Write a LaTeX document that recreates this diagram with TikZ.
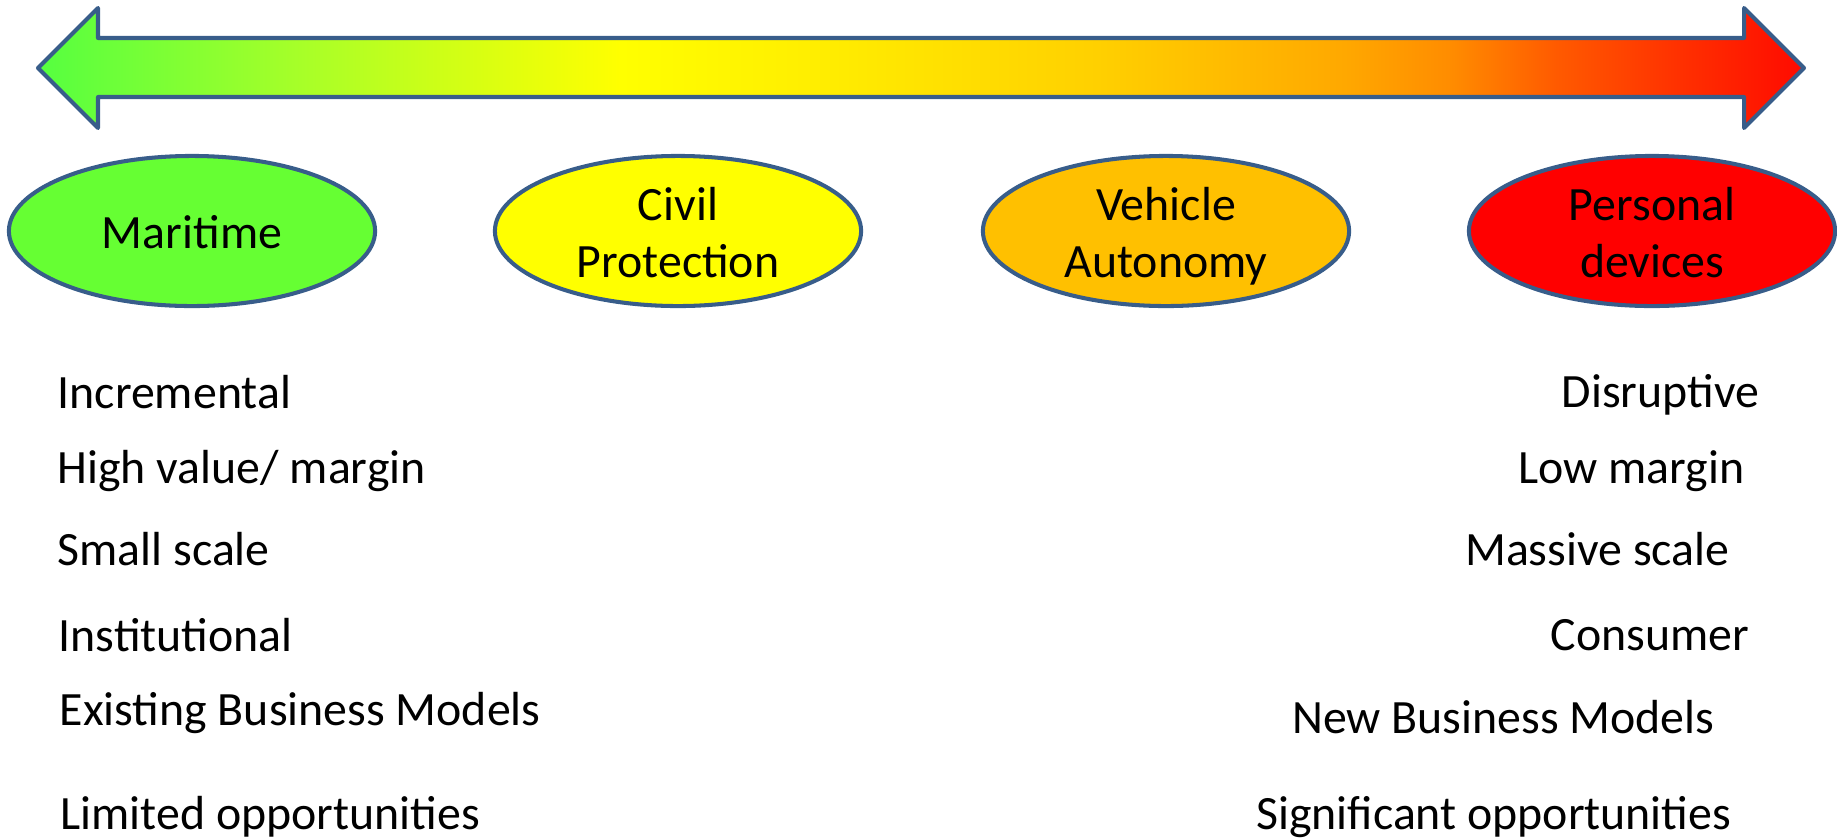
\documentclass[tikz,border=0pt]{standalone}
\usepackage{fontspec}
\setmainfont{Carlito}
\usetikzlibrary{shapes.geometric}

\definecolor{edgeblue}{RGB}{56,93,138}
\definecolor{sgreen}{RGB}{102,255,51}
\definecolor{syellow}{RGB}{255,255,0}
\definecolor{samber}{RGB}{255,192,0}
\definecolor{sred}{RGB}{255,0,0}
% colours along the double arrow
\definecolor{c0}{RGB}{85,255,64}
\definecolor{c1}{RGB}{168,255,40}
\definecolor{c2}{RGB}{255,255,0}
\definecolor{c3}{RGB}{255,238,0}
\definecolor{c4}{RGB}{255,208,0}
\definecolor{c5}{RGB}{255,168,0}
\definecolor{c6}{RGB}{255,140,0}
\definecolor{c7}{RGB}{255,90,0}
\definecolor{c8}{RGB}{255,48,0}
\definecolor{c9}{RGB}{255,10,0}
\pgfdeclarehorizontalshading{spectrum}{100bp}{color(0bp)=(c0); color(25bp)=(c0);
  color(32.5bp)=(c1); color(41.5bp)=(c2); color(47bp)=(c3); color(55bp)=(c4);
  color(62bp)=(c5); color(65bp)=(c6); color(68bp)=(c7); color(71.5bp)=(c8);
  color(75bp)=(c9); color(100bp)=(c9)}
\newcommand{\twolines}[2]{\begin{tabular}[t]{@{}c@{}}#1\\#2\end{tabular}}

\begin{document}
\begin{tikzpicture}[x=0.01cm, y=-0.01cm]
\tikzstyle{sector}=[ellipse,draw=edgeblue,line width=1.15pt,inner sep=0pt,
  minimum width=3.66cm,minimum height=1.50cm]
\tikzstyle{sectortext}=[inner sep=0pt,anchor=base,font=\fontsize{13.6}{16.3}\selectfont]
\tikzstyle{trait}=[inner sep=0pt,font=\fontsize{13.6}{16.3}\selectfont]
\useasboundingbox (0,0) rectangle (1837,839);

% double arrow
\draw[edgeblue,line width=1.15pt,line join=round,shading=spectrum]
  (38,68) -- (98,8) -- (98,38) -- (1744,38) -- (1744,8) -- (1804,68)
  -- (1744,128) -- (1744,97) -- (98,97) -- (98,128) -- cycle;

% sectors
\node[sector,fill=sgreen]  (maritime) at (192,231)  {};
\node[sector,fill=syellow] (civil)    at (678,231)  {};
\node[sector,fill=samber]  (vehicle)  at (1166,231) {};
\node[sector,fill=sred]    (personal) at (1652,231) {};
\node[sectortext] (maritimetext) at (192,248)  {Maritime};
\node[sectortext] (civiltext)    at (678,220)  {\twolines{Civil}{Protection}};
\node[sectortext] (vehicletext)  at (1166,220) {\twolines{Vehicle}{Autonomy}};
\node[sectortext] (personaltext) at (1652,220) {\twolines{Personal}{devices}};

% left end
\node[trait,anchor=base west] (incr)    at (57,408) {Incremental};
\node[trait,anchor=base west] (highval) at (57,483) {High value/ margin};
\node[trait,anchor=base west] (small)   at (57,565) {Small scale};
\node[trait,anchor=base west] (inst)    at (58,651) {Institutional};
\node[trait,anchor=base west] (exist)   at (59,725) {Existing Business Models};
\node[trait,anchor=base west] (limited) at (60,829) {Limited opportunities};

% right end
\node[trait,anchor=base east] (disr)    at (1760,407) {Disruptive};
\node[trait,anchor=base east] (lowm)    at (1745,483) {Low margin};
\node[trait,anchor=base east] (massive) at (1730,565) {Massive scale};
\node[trait,anchor=base east] (cons)    at (1750,650) {Consumer};
\node[trait,anchor=base east] (newbm)   at (1715,733) {New Business Models};
\node[trait,anchor=base east] (signif)  at (1732,829) {Significant opportunities};
\end{tikzpicture}
\end{document}
